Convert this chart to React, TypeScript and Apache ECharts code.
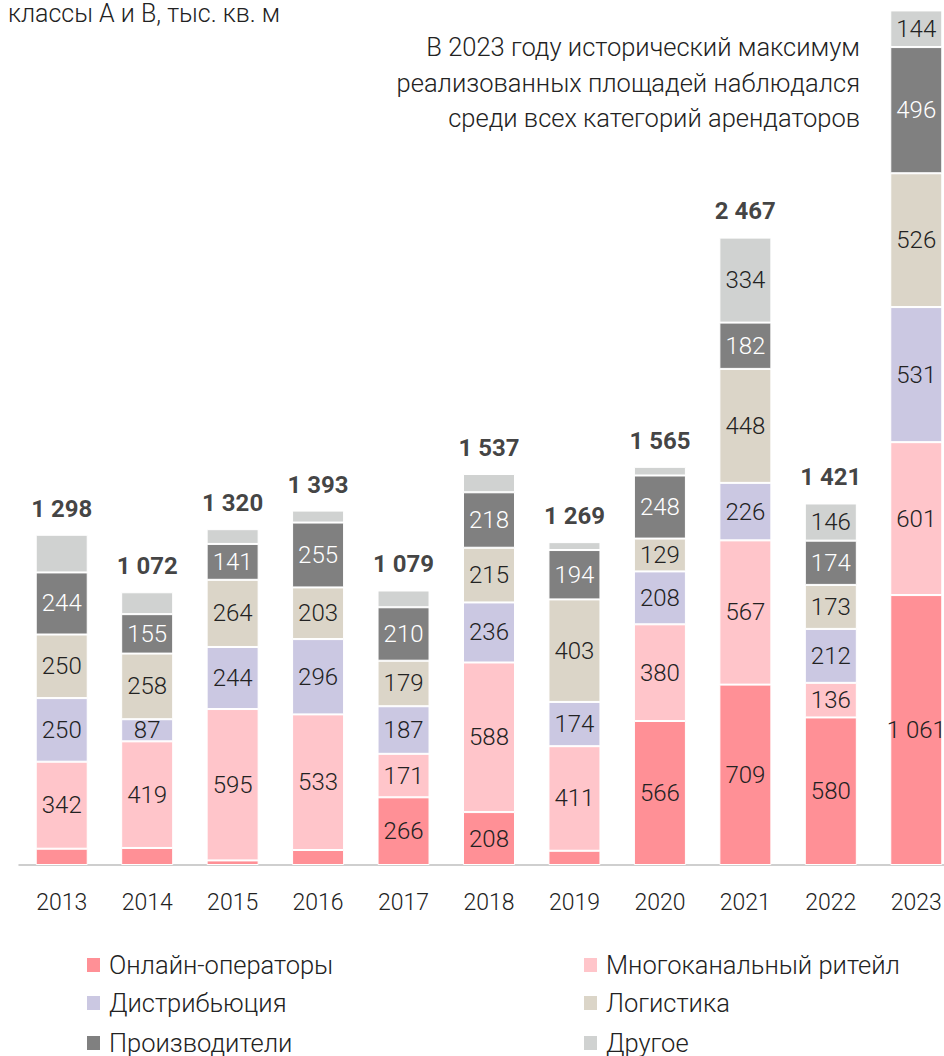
import React, { useEffect, useRef } from "react";
import * as echarts from "echarts";

const years = ["2013", "2014", "2015", "2016", "2017", "2018", "2019", "2020", "2021", "2022", "2023"];
const online = [64, 67, 18, 59, 266, 208, 56, 566, 709, 580, 1061];
const multi = [342, 419, 595, 533, 171, 588, 411, 380, 567, 136, 601];
const distrib = [250, 87, 244, 296, 187, 236, 174, 208, 226, 212, 531];
const logist = [250, 258, 264, 203, 179, 215, 403, 129, 448, 173, 526];
const prod = [244, 155, 141, 255, 210, 218, 194, 248, 182, 174, 496];
const other = [148, 86, 58, 47, 66, 72, 31, 34, 334, 146, 144];
const totals: (number | null)[] = [1298, 1072, 1320, 1393, 1079, 1537, 1269, 1565, 2467, 1421, null];

const seriesNames = [
  "Онлайн-операторы",
  "Многоканальный ритейл",
  "Дистрибьюция",
  "Логистика",
  "Производители",
  "Другое",
];
const seriesData = [online, multi, distrib, logist, prod, other];
const colors = ["#FF9096", "#FFC5CA", "#CBC8E2", "#DBD5C8", "#808080", "#D0D2D1"];
const labelColors = ["#222", "#222", "#222", "#222", "#fff", "#222"];
// data indexes whose segment label is not shown
const hiddenLabels: number[][] = [[0, 1, 2, 3, 6], [], [], [], [], [0, 1, 2, 3, 4, 5, 6, 7]];

const titleText = "классы А и В, тыс. кв. м";
const noteLines = [
  "В 2023 году исторический максимум",
  "реализованных площадей наблюдался",
  "среди всех категорий арендаторов",
];

const FONT = "Roboto, 'Noto Sans', sans-serif";

function fmt(v: number): string {
  return String(v).replace(/\B(?=(\d{3})+(?!\d))/g, " ");
}

export default function App() {
  const ref = useRef<HTMLDivElement>(null);
  useEffect(() => {
    if (!ref.current) return;
    const chart = echarts.init(ref.current, null, { renderer: "svg" });
    const bars = seriesData.map((arr, si) => ({
      name: seriesNames[si],
      type: "bar",
      stack: "total",
      barWidth: 52,
      itemStyle: { color: colors[si], borderColor: "#fff", borderWidth: 1 },
      data: arr.map((v, i) =>
        hiddenLabels[si].includes(i) ? { value: v, label: { show: false } } : { value: v }
      ),
      label: {
        show: true,
        position: "inside",
        color: labelColors[si],
        fontFamily: FONT,
        fontWeight: 300,
        fontSize: 24,
        formatter: (p: any) => fmt(p.value),
      },
    }));
    const legendPos = [
      [85, 952],
      [582, 952],
      [85, 990],
      [582, 990],
      [85, 1030],
      [582, 1030],
    ];
    const legends = seriesNames.map((n, i) => ({
      left: legendPos[i][0],
      top: legendPos[i][1],
      itemWidth: 15,
      itemHeight: 16,
      icon: "rect",
      padding: 0,
      data: [n],
      textStyle: { color: "#222", fontFamily: FONT, fontWeight: 300, fontSize: 25.5, padding: [0, 0, 0, 3] },
    }));
    const option: any = {
      animation: false,
      backgroundColor: "#fff",
      grid: { left: 19, top: 0, width: 940, height: 865, containLabel: false },
      xAxis: {
        type: "category",
        data: years,
        axisLine: { show: true, lineStyle: { color: "#BFBFBF", width: 1.5 } },
        axisTick: { show: false },
        axisLabel: { color: "#222", fontFamily: FONT, fontWeight: 300, fontSize: 23, margin: 26 },
      },
      yAxis: { type: "value", min: 0, max: 3400, show: false, splitLine: { show: false } },
      legend: legends,
      graphic: [
        {
          type: "text",
          left: 8,
          top: 1,
          style: { text: titleText, fill: "#222", font: `300 25px ${FONT}` },
        },
        ...noteLines.map((t, i) => ({
          type: "text",
          x: 860,
          y: 34 + i * 35.5,
          style: {
            text: t,
            fill: "#222",
            font: `300 25.5px ${FONT}`,
            textAlign: "right",
            textVerticalAlign: "top",
          },
        })),
      ],
      series: [
        ...bars,
        {
          name: "total",
          type: "scatter",
          symbolSize: 0,
          silent: true,
          data: totals.map((v) => (v == null ? null : v)),
          label: {
            show: true,
            position: "top",
            distance: 14,
            color: "#111",
            fontFamily: FONT,
            fontWeight: "bold",
            fontSize: 24,
            formatter: (p: any) => (p.value == null ? "" : fmt(p.value)),
          },
        },
      ],
    };
    chart.setOption(option);
    return () => chart.dispose();
  }, []);
  return (
    <div style={{ position: "absolute", left: 0, top: 0, width: 944, height: 1056, overflow: "hidden" }}>
      <div ref={ref} style={{ width: 964, height: 1056 }} />
    </div>
  );
}
